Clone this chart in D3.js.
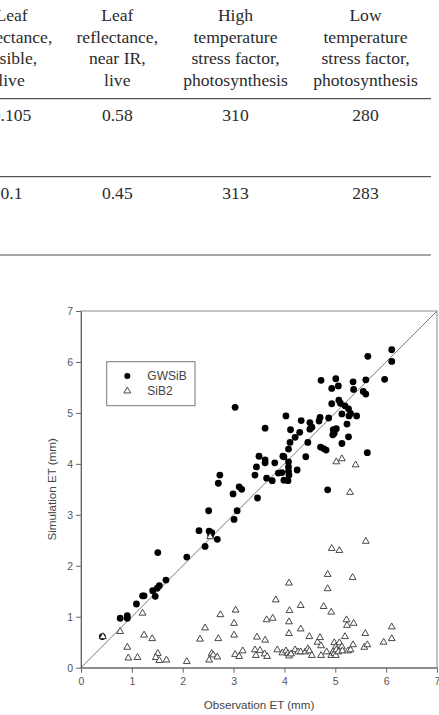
<!DOCTYPE html>
<html>
<head>
<meta charset="utf-8">
<script src="https://cdn.jsdelivr.net/npm/d3@7"></script>
<style>
  html, body { margin: 0; padding: 0; background: #fff; }
  svg { display: block; }
</style>
</head>
<body>
<svg id="chart" width="439" height="715"></svg>
<script>
// ---------- Table fragment (top) ----------
const tableHeaders = [
  ["Leaf", "reflectance,", "visible,", "live"],
  ["Leaf", "reflectance,", "near IR,", "live"],
  ["High", "temperature", "stress factor,", "photosynthesis"],
  ["Low", "temperature", "stress factor,", "photosynthesis"]
];
const tableRow1 = ["0.105", "0.58", "310", "280"];
const tableRow2 = ["0.1", "0.45", "313", "283"];

// ---------- Scatter data (Observation ET, Simulation ET) ----------
const axisTicks = [0, 1, 2, 3, 4, 5, 6, 7];
const seriesNames = ["GWSiB", "SiB2"];

const gwsibPoints = [
  [0.42,0.61],[0.77,0.97],[0.91,1.02],[0.91,0.97],[1.09,1.25],[1.21,1.41],[1.24,1.41],
  [1.41,1.51],[1.46,1.40],[1.50,1.56],[1.54,1.61],[1.51,2.26],[1.67,1.72],[2.08,2.17],
  [2.32,2.69],[2.44,2.38],[2.51,3.08],[2.52,2.68],[2.57,2.65],[2.55,2.60],[2.68,2.52],
  [2.70,3.62],[2.73,3.78],[2.99,3.41],[3.01,2.91],[3.07,3.08],[3.11,3.55],[3.16,3.50],
  [3.03,5.11],[3.42,3.78],[3.45,3.94],[3.47,3.33],[3.50,4.15],[3.62,4.02],[3.62,4.08],
  [3.62,4.70],[3.65,3.72],[3.76,3.67],[3.81,4.02],[3.88,3.82],[3.95,3.83],[3.97,4.15],
  [3.99,3.68],[4.07,3.67],[4.08,3.85],[4.09,3.78],[4.08,4.04],[4.08,4.29],[4.08,3.94],
  [3.99,4.14],[4.03,4.94],[4.11,4.42],[4.12,4.67],[4.21,4.52],[4.25,3.88],[4.30,4.62],
  [4.33,4.85],[4.42,4.14],[4.46,4.42],[4.50,4.81],[4.54,4.72],[4.50,4.68],[4.70,4.91],
  [4.68,4.84],[4.72,5.64],[4.71,4.33],[4.77,4.30],[4.82,4.27],[4.85,3.49],[4.87,4.90],
  [4.93,5.48],[4.93,5.18],[4.96,4.67],[5.02,4.69],[4.98,4.60],[4.95,4.57],[5.01,5.67],
  [5.06,5.53],[5.07,5.25],[5.10,5.19],[5.13,4.98],[5.13,4.40],[5.19,5.14],[5.26,5.08],
  [5.30,4.99],[5.23,4.78],[5.26,4.53],[5.27,4.94],[5.35,5.61],[5.36,5.46],[5.42,4.94],
  [5.55,5.42],[5.60,5.37],[5.60,5.65],[5.63,4.22],[5.64,6.11],[5.97,5.66],[6.11,6.24],
  [6.11,6.01]
];

const sib2Points = [
  [0.43,0.61],[0.77,0.71],[1.21,1.07],[0.91,0.40],[0.93,0.19],[1.11,0.20],[1.24,0.64],
  [1.40,0.57],[1.51,0.28],[1.47,0.20],[1.54,0.14],[1.68,0.15],[2.08,0.12],[2.34,0.56],
  [2.44,0.78],[2.52,0.15],[2.57,0.28],[2.60,0.25],[2.68,0.21],[2.70,0.57],[2.74,1.04],
  [2.54,2.57],[3.01,0.87],[3.01,0.64],[3.04,1.13],[3.03,0.26],[3.11,0.22],[3.18,0.33],
  [3.42,0.35],[3.44,0.24],[3.46,0.60],[3.52,0.34],[3.62,0.54],[3.61,0.27],[3.66,0.22],
  [3.65,0.94],[3.77,0.97],[3.83,1.33],[3.86,0.35],[3.96,0.29],[4.03,0.33],[4.07,0.28],
  [4.09,0.23],[4.13,0.27],[4.09,0.67],[4.09,0.90],[4.10,1.12],[4.09,1.66],[4.21,0.35],
  [4.27,0.31],[4.32,0.31],[4.32,0.76],[4.32,1.22],[4.41,0.31],[4.46,0.37],[4.49,0.33],
  [4.49,0.61],[4.54,0.24],[4.65,0.50],[4.70,0.59],[4.72,0.43],[4.72,0.24],[4.77,1.20],
  [4.83,0.31],[4.85,1.55],[4.85,1.83],[4.92,1.09],[4.92,0.24],[4.93,2.34],[4.96,0.32],
  [4.98,0.49],[4.98,0.28],[5.01,0.41],[5.02,0.35],[5.01,0.24],[5.02,4.04],[5.06,0.31],
  [5.08,0.49],[5.08,2.30],[5.13,0.41],[5.13,4.10],[5.14,0.33],[5.19,0.61],[5.22,0.94],
  [5.23,0.83],[5.25,0.33],[5.29,3.44],[5.30,0.35],[5.34,1.77],[5.35,0.45],[5.36,0.87],
  [5.40,3.98],[5.57,0.40],[5.59,0.67],[5.60,2.48],[5.63,0.45],[5.95,0.50],[6.11,0.57],
  [6.11,0.80]
];

const xTitle = "Observation ET (mm)";
const yTitle = "Simulation ET (mm)";

// ---------- Drawing ----------
const svg = d3.select("#chart");

// Table
const serif = "'Liberation Serif', 'Times New Roman', Times, serif";
const colX = [11.5, 117.3, 235.5, 365.5];
const headBase = [20.7, 42.5, 64.3, 86.1];
const tbl = svg.append("g").attr("font-family", serif).attr("font-size", 17.6).attr("fill", "#2b2b2b");
tableHeaders.forEach((lines, c) => {
  lines.forEach((t, i) => {
    tbl.append("text").attr("x", colX[c]).attr("y", headBase[i]).attr("text-anchor", "middle").text(t);
  });
});
tableRow1.forEach((t, c) => tbl.append("text").attr("x", colX[c]).attr("y", 120.7).attr("text-anchor", "middle").text(t));
tableRow2.forEach((t, c) => tbl.append("text").attr("x", colX[c]).attr("y", 199).attr("text-anchor", "middle").text(t));
[[98.7, "#555", 1.3], [176.7, "#555", 1.3], [255, "#888", 1.6]].forEach(([yy, col, w]) => {
  svg.append("line").attr("x1", 0).attr("x2", 431).attr("y1", yy).attr("y2", yy)
    .attr("stroke", col).attr("stroke-width", w);
});

// Scatter
const sans = "'Liberation Sans', Arial, sans-serif";
const x = d3.scaleLinear().domain([0, 7]).range([81, 437]);
const y = d3.scaleLinear().domain([0, 7]).range([667.7, 311]);

const plot = svg.append("g");

// frame
plot.append("rect")
  .attr("x", x(0)).attr("y", y(7))
  .attr("width", x(7) - x(0)).attr("height", y(0) - y(7))
  .attr("fill", "none").attr("stroke", "#8a8a8a").attr("stroke-width", 1);

// 1:1 line
plot.append("line")
  .attr("x1", x(0)).attr("y1", y(0)).attr("x2", x(7)).attr("y2", y(7))
  .attr("stroke", "#7a7a7a").attr("stroke-width", 1);

// axes
const xAxis = plot.append("g").attr("transform", `translate(0,${y(0)})`)
  .call(d3.axisBottom(x).tickValues(axisTicks).tickFormat(d3.format("d")).tickSize(5).tickPadding(5).tickSizeOuter(0));
const yAxis = plot.append("g").attr("transform", `translate(${x(0)},0)`)
  .call(d3.axisLeft(y).tickValues(axisTicks).tickFormat(d3.format("d")).tickSize(5).tickPadding(3).tickSizeOuter(0));
[xAxis, yAxis].forEach(a => {
  a.select(".domain").attr("stroke", "#666");
  a.selectAll(".tick line").attr("stroke", "#666");
  a.selectAll(".tick text").attr("fill", "#555").attr("font-family", sans).attr("font-size", 10.5);
});

// points
plot.append("g").selectAll("circle").data(gwsibPoints).join("circle")
  .attr("cx", d => x(d[0])).attr("cy", d => y(d[1])).attr("r", 3.4).attr("fill", "#000");

const tri = d3.symbol().type(d3.symbolTriangle).size(20);
plot.append("g").selectAll("path").data(sib2Points).join("path")
  .attr("d", tri)
  .attr("transform", d => `translate(${x(d[0])},${y(d[1])})`)
  .attr("fill", "#fff").attr("stroke", "#333").attr("stroke-width", 0.9);

// titles
svg.append("text").attr("x", (x(0) + x(7)) / 2).attr("y", 708.5)
  .attr("text-anchor", "middle").attr("font-family", sans).attr("font-size", 11.6).attr("fill", "#444").text(xTitle);
svg.append("text").attr("transform", `translate(56,${(y(0) + y(7)) / 2}) rotate(-90)`)
  .attr("text-anchor", "middle").attr("font-family", sans).attr("font-size", 11.6).attr("fill", "#444").text(yTitle);

// legend
const lg = svg.append("g");
lg.append("rect").attr("x", 106.7).attr("y", 361.7).attr("width", 88.3).attr("height", 44)
  .attr("fill", "#fff").attr("stroke", "#777").attr("stroke-width", 1);
lg.append("circle").attr("cx", 127.3).attr("cy", 376).attr("r", 3).attr("fill", "#000");
lg.append("path").attr("d", tri).attr("transform", "translate(127.3,391)")
  .attr("fill", "#fff").attr("stroke", "#333").attr("stroke-width", 0.9);
lg.append("text").attr("x", 147.3).attr("y", 376).attr("dy", "0.36em").attr("font-family", sans)
  .attr("font-size", 12).attr("fill", "#444").text(seriesNames[0]);
lg.append("text").attr("x", 147.3).attr("y", 391).attr("dy", "0.36em").attr("font-family", sans)
  .attr("font-size", 12).attr("fill", "#444").text(seriesNames[1]);
</script>
</body>
</html>
